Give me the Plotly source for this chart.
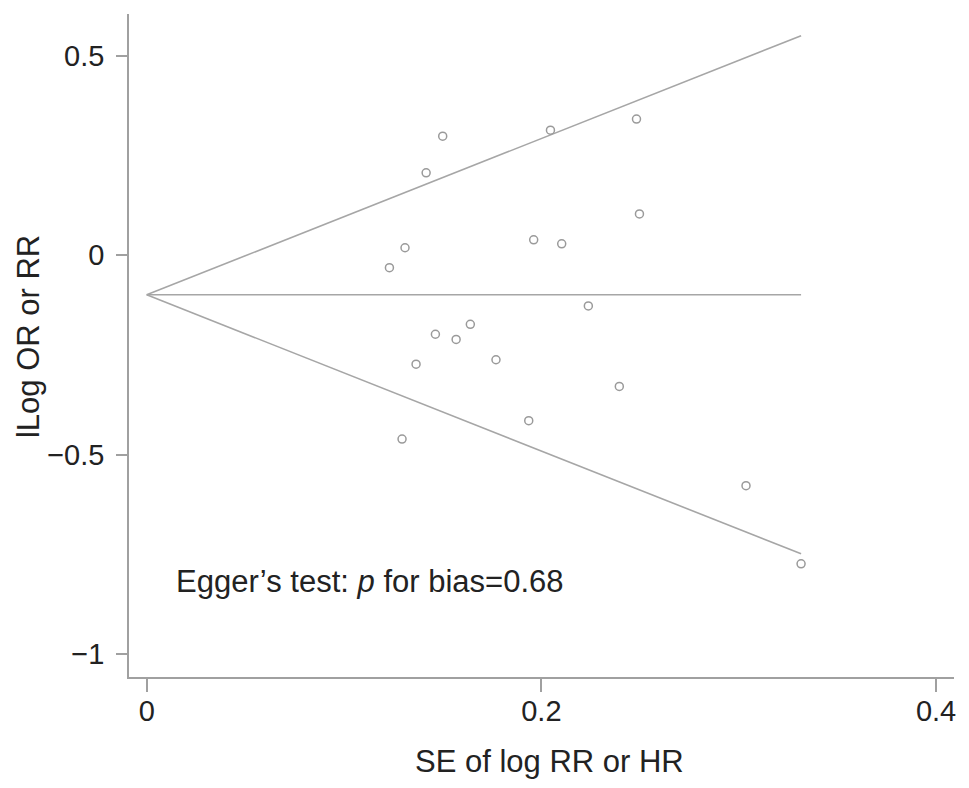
import plotly.graph_objects as go

# Study standard errors (x) and effect sizes (y)
se = [0.150, 0.1416, 0.1309, 0.1230, 0.2046, 0.2482, 0.2497, 0.1961, 0.2103,
      0.1463, 0.1568, 0.1640, 0.1365, 0.1770, 0.1294, 0.1936, 0.2238, 0.2395,
      0.3037, 0.3316]
effect = [0.299, 0.207, 0.019, -0.031, 0.314, 0.342, 0.104, 0.039, 0.029,
          -0.198, -0.211, -0.173, -0.273, -0.262, -0.461, -0.415, -0.127, -0.329,
          -0.578, -0.774]
pooled = -0.099
z = 1.96
x_ticks = [0, 0.2, 0.4]
x_labels = ["0", "0.2", "0.4"]
y_ticks = [0.5, 0, -0.5, -1]
y_labels = ["0.5", "0", "−0.5", "−1"]
x_title = "SE of log RR or HR"
y_title = "lLog OR or RR"
annot_text = "Egger’s test: <i>p</i> for bias=0.68"

max_se = max(se)
line_col = "#a6a6a6"
axis_col = "#a0a0a0"
txt_col = "#222222"
font_fam = "Liberation Sans, Arial, Helvetica, sans-serif"

fig = go.Figure()
# pseudo confidence limits
fig.add_trace(go.Scatter(x=[0, max_se], y=[pooled, pooled + z * max_se], mode="lines",
                         line=dict(color=line_col, width=1.6), showlegend=False))
fig.add_trace(go.Scatter(x=[0, max_se], y=[pooled, pooled - z * max_se], mode="lines",
                         line=dict(color=line_col, width=1.6), showlegend=False))
fig.add_trace(go.Scatter(x=[0, max_se], y=[pooled, pooled], mode="lines",
                         line=dict(color=line_col, width=1.6), showlegend=False))
fig.add_trace(go.Scatter(x=se, y=effect, mode="markers",
                         marker=dict(symbol="circle-open", size=8, color="#9a9a9a",
                                     line=dict(width=1.5)),
                         showlegend=False))

fig.add_annotation(x=0.0137, y=-0.819, xref="x", yref="y", text=annot_text,
                   showarrow=False, xanchor="left", yanchor="middle",
                   font=dict(size=31, color=txt_col, family=font_fam))
# axis titles
fig.add_annotation(x=0.5103, y=-0.127, xref="paper", yref="paper", text=x_title,
                   showarrow=False, xanchor="center", yanchor="middle",
                   font=dict(size=31, color=txt_col, family=font_fam))
fig.add_annotation(x=-0.1224, y=0.5128, xref="paper", yref="paper", text=y_title,
                   showarrow=False, xanchor="center", yanchor="middle", textangle=-90,
                   font=dict(size=31, color=txt_col, family=font_fam))

fig.update_layout(
    width=969, height=788,
    margin=dict(l=121, r=23, t=6, b=119),
    plot_bgcolor="white", paper_bgcolor="white",
    font=dict(family=font_fam, color=txt_col),
    xaxis=dict(range=[-0.00897, 0.4091], tickvals=x_ticks, ticktext=x_labels,
               showgrid=False, zeroline=False, showline=True, linecolor=axis_col,
               linewidth=1.6, ticks="outside", ticklen=13, tickcolor=axis_col,
               tickwidth=1.5, tickfont=dict(size=29, color=txt_col), automargin=False,
               ticklabelstandoff=-6),
    yaxis=dict(range=[-1.058, 0.6055], tickvals=y_ticks, ticktext=y_labels,
               showgrid=False, zeroline=False, showline=True, linecolor=axis_col,
               linewidth=1.6, ticks="outside", ticklen=11, tickcolor=axis_col,
               tickwidth=1.5, tickfont=dict(size=29, color=txt_col), automargin=False,
               ticklabelstandoff=6),
)

fig.write_html("out.html")
